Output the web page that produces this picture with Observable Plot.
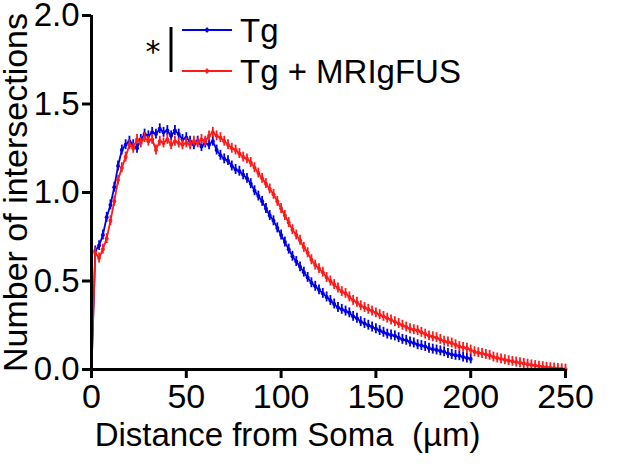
<!DOCTYPE html>
<html>
<head>
<meta charset="utf-8">
<script src="https://cdn.jsdelivr.net/npm/d3@7"></script>
<script src="https://cdn.jsdelivr.net/npm/@observablehq/plot@0.6"></script>
<style>
  html, body { margin: 0; padding: 0; background: #fff; }
  #wrap { position: relative; width: 644px; height: 467px; font-family: "Liberation Sans", Arial, Helvetica, sans-serif; }
  #leg { position: absolute; left: 0; top: 0; }
</style>
</head>
<body>
<div id="wrap"></div>
<script>
// ---- data ----
const radiusStep = 2; // µm between Sholl circles sampled
const tgValues = [
  0.00, 0.67, 0.70, 0.76, 0.86, 0.93, 1.03, 1.15, 1.24, 1.27,
  1.29, 1.27, 1.25, 1.30, 1.33, 1.32, 1.34, 1.33, 1.36, 1.34,
  1.35, 1.32, 1.35, 1.33, 1.30, 1.31, 1.29, 1.27, 1.29, 1.26,
  1.28, 1.27, 1.29, 1.24, 1.21, 1.19, 1.18, 1.15, 1.13, 1.12,
  1.10, 1.08, 1.05, 1.01, 0.98, 0.95, 0.91, 0.87, 0.84, 0.80,
  0.76, 0.72, 0.68, 0.64, 0.61, 0.58, 0.55, 0.52, 0.49, 0.47,
  0.45, 0.43, 0.41, 0.39, 0.37, 0.35, 0.34, 0.33, 0.32, 0.30,
  0.29, 0.27, 0.26, 0.25, 0.24, 0.23, 0.22, 0.21, 0.20, 0.195,
  0.19, 0.18, 0.17, 0.165, 0.155, 0.15, 0.14, 0.135, 0.13, 0.12,
  0.115, 0.11, 0.105, 0.10, 0.09, 0.085, 0.08, 0.078, 0.07, 0.065,
  0.06
];
const fusValues = [
  0.00, 0.66, 0.63, 0.68, 0.74, 0.84, 0.95, 1.07, 1.14, 1.20,
  1.27, 1.25, 1.30, 1.28, 1.31, 1.29, 1.30, 1.24, 1.29, 1.28,
  1.30, 1.27, 1.29, 1.28, 1.27, 1.28, 1.27, 1.29, 1.28, 1.30,
  1.29, 1.32, 1.34, 1.32, 1.31, 1.29, 1.27, 1.25, 1.24, 1.22,
  1.20, 1.19, 1.17, 1.14, 1.11, 1.08, 1.05, 1.02, 0.99, 0.95,
  0.91, 0.87, 0.83, 0.79, 0.76, 0.73, 0.69, 0.66, 0.62, 0.59,
  0.57, 0.55, 0.52, 0.50, 0.48, 0.46, 0.44, 0.43, 0.41, 0.39,
  0.38, 0.36, 0.35, 0.34, 0.33, 0.32, 0.31, 0.30, 0.29, 0.28,
  0.27, 0.26, 0.25, 0.24, 0.23, 0.225, 0.22, 0.21, 0.20, 0.19,
  0.185, 0.18, 0.17, 0.16, 0.155, 0.15, 0.14, 0.13, 0.125, 0.12,
  0.11, 0.10, 0.095, 0.09, 0.085, 0.08, 0.07, 0.065, 0.06, 0.055,
  0.05, 0.046, 0.042, 0.038, 0.034, 0.03, 0.026, 0.022, 0.019, 0.016,
  0.013, 0.01, 0.008, 0.006, 0.004, 0.002
];
const semTg = 0.028;
const semFus = 0.028;
const seriesNames = ["Tg", "Tg + MRIgFUS"];
const seriesColors = ["#0000e6", "#ff1a1a"];
const xTicks = [0, 50, 100, 150, 200, 250];
const yTicks = [0.0, 0.5, 1.0, 1.5, 2.0];
const xLabel = "Distance from Soma\u00a0 (\u00b5m)";
const yLabel = "Number of intersections";

// ---- build table ----
function rows(values, name, sem) {
  return values.map((v, i) => ({ r: i * radiusStep, v, lo: Math.max(0, v - sem), hi: v + sem, name }));
}
const tg = rows(tgValues, seriesNames[0], semTg);
const fus = rows(fusValues, seriesNames[1], semFus);

const font = "Liberation Sans, Arial, Helvetica, sans-serif";

function seriesMarks(data, color) {
  return [
    Plot.line(data, { x: "r", y: "v", stroke: color, strokeWidth: 1.8 }),
    Plot.ruleX(data, { x: "r", y1: "lo", y2: "hi", stroke: color, strokeWidth: 1.8 }),
    Plot.dot(data, { x: "r", y: "v", fill: color, r: 2, stroke: null })
  ];
}

const chart = Plot.plot({
  width: 644,
  height: 467,
  marginLeft: 91,
  marginRight: 79,
  marginTop: 15,
  marginBottom: 98,
  style: { fontFamily: font, background: "#fff", overflow: "visible" },
  x: { domain: [0, 250] },
  y: { domain: [0, 2] },
  marks: [
    ...seriesMarks(tg, seriesColors[0]),
    ...seriesMarks(fus, seriesColors[1]),
    Plot.ruleY([0], { stroke: "#000", strokeWidth: 3 }),
    Plot.ruleX([0], { y1: 0, y2: 2, stroke: "#000", strokeWidth: 3 }),
    Plot.axisX({ ticks: xTicks, tickSize: 9, tickPadding: 5, fontSize: 34, strokeWidth: 3, label: null, tickFormat: d3.format("d") }),
    Plot.axisY({ ticks: yTicks, tickSize: 9, tickPadding: 3, fontSize: 33, strokeWidth: 3, label: null, tickFormat: d3.format(".1f") }),
    Plot.text([xLabel], { frameAnchor: "bottom", textAnchor: "middle", dx: -41, dy: 76, fontSize: 33, fill: "#000" }),
    Plot.text([yLabel], { frameAnchor: "left", textAnchor: "middle", rotate: -90, dx: -75, fontSize: 34, fill: "#000" })
  ]
});

const wrap = document.getElementById("wrap");
wrap.appendChild(chart);

// ---- legend overlay ----
const ns = "http://www.w3.org/2000/svg";
const leg = document.createElementNS(ns, "svg");
leg.setAttribute("id", "leg");
leg.setAttribute("width", 644);
leg.setAttribute("height", 100);
function el(tag, attrs, text) {
  const e = document.createElementNS(ns, tag);
  for (const k in attrs) e.setAttribute(k, attrs[k]);
  if (text != null) e.textContent = text;
  leg.appendChild(e);
  return e;
}
const legY = [30, 71];
seriesNames.forEach((name, i) => {
  const c = seriesColors[i];
  el("line", { x1: 182, x2: 232, y1: legY[i], y2: legY[i], stroke: c, "stroke-width": 1.8 });
  el("line", { x1: 207, x2: 207, y1: legY[i] - 2.5, y2: legY[i] + 2.5, stroke: c, "stroke-width": 1.6 });
  el("circle", { cx: 207, cy: legY[i], r: 2, fill: c });
  el("text", { x: 240, y: legY[i] + 12, "font-size": 33, "font-family": font, fill: "#000" }, name);
});
el("line", { x1: 171, x2: 171, y1: 27, y2: 72, stroke: "#000", "stroke-width": 3 });
el("text", { x: 153, y: 62, "font-size": 30, "font-family": "DejaVu Sans, sans-serif", "text-anchor": "middle", fill: "#000" }, "*");
wrap.appendChild(leg);
</script>
</body>
</html>
